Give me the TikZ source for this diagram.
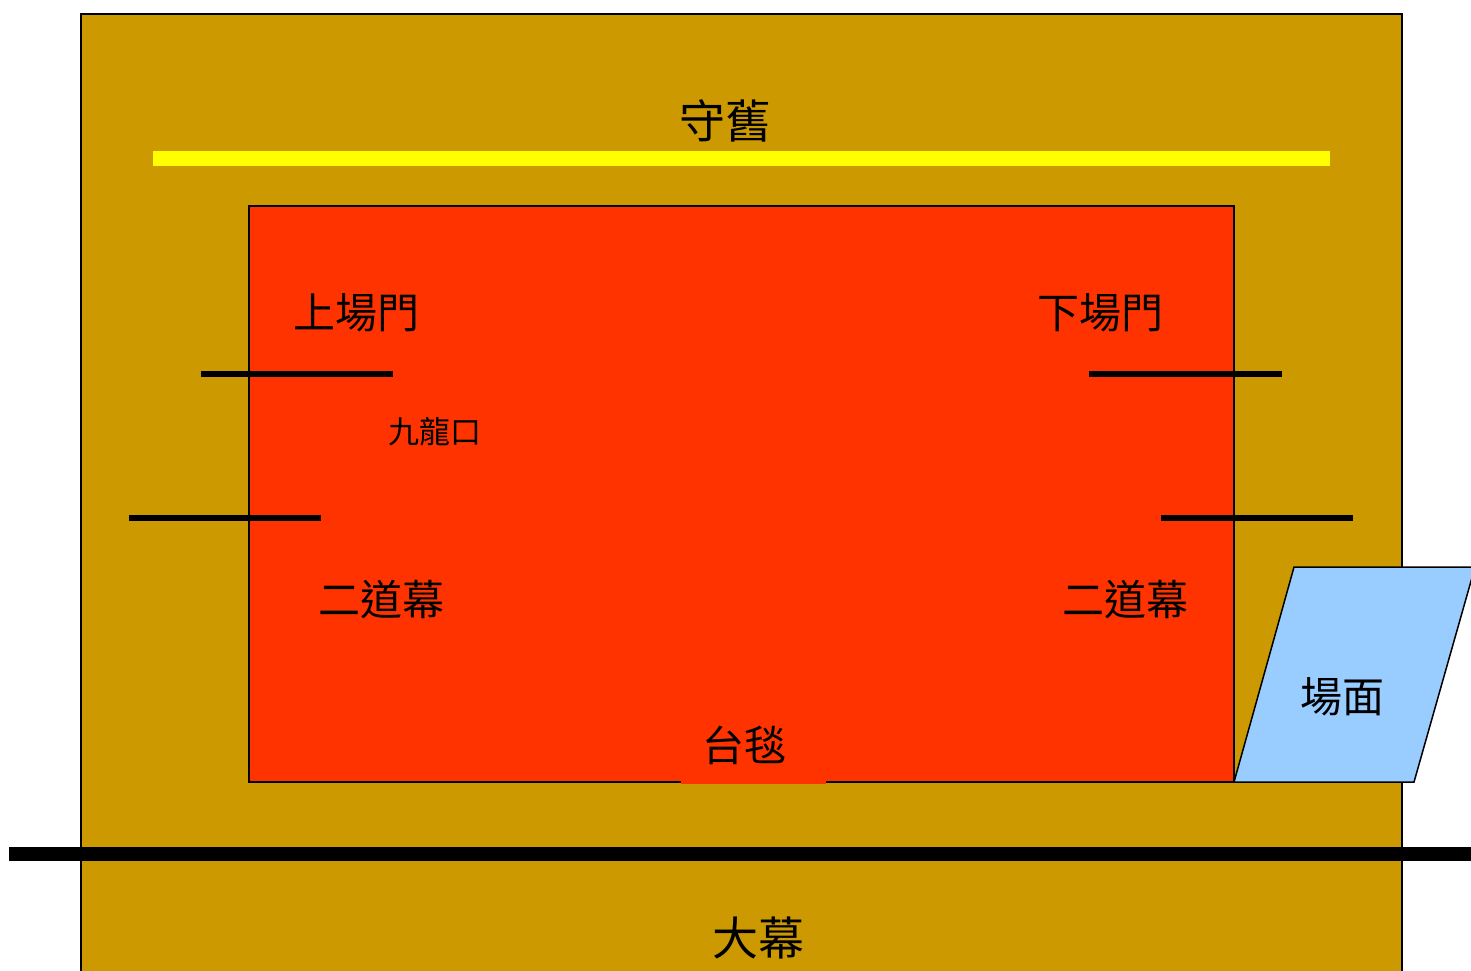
\documentclass[tikz,border=0pt]{standalone}
\usepackage{fontspec}
\newfontfamily\cjk{Noto Sans CJK TC}
\definecolor{stagebrown}{HTML}{CC9900}
\definecolor{stagered}{HTML}{FF3300}
\definecolor{stageblue}{HTML}{99CCFF}
\definecolor{stageyellow}{HTML}{FFFF00}
\tikzset{
  lbl/.style={font=\cjk\fontsize{42}{44}\selectfont, inner sep=0pt},
  biglbl/.style={font=\cjk\fontsize{46}{48}\selectfont, inner sep=0pt},
  smalllbl/.style={font=\cjk\fontsize{31}{33}\selectfont, inner sep=0pt},
  curtain/.style={line width=5.5pt, black},
}
\begin{document}
\begin{tikzpicture}[x=1pt,y=-1pt]
\useasboundingbox (0,0) rectangle (1471,970);
\clip (0,0) rectangle (1471,970);
% outer stage area
\draw[fill=stagebrown, line width=1.5pt] (81,14) rectangle (1402,1000);
% yellow line
\fill[stageyellow] (153,151) rectangle (1330,166);
% red stage
\draw[fill=stagered, line width=1.5pt] (249,206) rectangle (1234,782);
% carpet label patch
\fill[stagered] (681,730) rectangle (826,783.5);
% curtain lines
\coordinate (lu1) at (201,374); \coordinate (lu2) at (393,374);
\coordinate (ll1) at (129,518); \coordinate (ll2) at (321,518);
\coordinate (ru1) at (1089,374); \coordinate (ru2) at (1282,374);
\coordinate (rl1) at (1161,518); \coordinate (rl2) at (1353,518);
\draw[curtain] (lu1) -- (lu2);
\draw[curtain] (ll1) -- (ll2);
\draw[curtain] (ru1) -- (ru2);
\draw[curtain] (rl1) -- (rl2);
% main curtain
\coordinate (mc1) at (9,854); \coordinate (mc2) at (1471,854);
\draw[line width=14pt] (mc1) -- (mc2);
% orchestra parallelogram
\draw[fill=stageblue, line width=1.5pt] (1294,567) -- (1475,567) -- (1414,782) -- (1234,782) -- cycle;
% labels
\node[biglbl] (shoujiu) at (725,121) {守舊};
\node[lbl] (shangchangmen) at (356,313) {上場門};
\node[lbl] (xiachangmen) at (1100,313) {下場門};
\node[smalllbl] (jiulongkou) at (435,432) {九龍口};
\node[lbl] (erdaomu1) at (381,600) {二道幕};
\node[lbl] (erdaomu2) at (1125,600) {二道幕};
\node[lbl] (changmian) at (1342,697) {場面};
\node[lbl] (taitan) at (744,745) {台毯};
\node[biglbl] (damu) at (758,938) {大幕};
\end{tikzpicture}
\end{document}
